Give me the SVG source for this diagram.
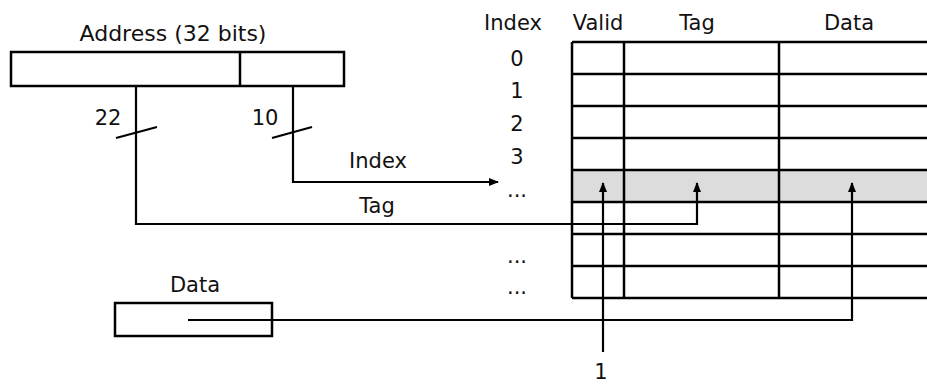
<svg xmlns="http://www.w3.org/2000/svg" width="927" height="385" viewBox="0 0 927 385">
<defs>
<style>
text{font-family:"DejaVu Sans","Liberation Sans",sans-serif;font-size:21px;fill:#111;text-anchor:middle}
.box{fill:#fff;stroke:#000;stroke-width:2.5}
.ln{fill:none;stroke:#000;stroke-width:2.5}
.conn{fill:none;stroke:#000;stroke-width:2.2}
</style>
<marker id="ah" markerUnits="userSpaceOnUse" markerWidth="10" markerHeight="8" refX="9" refY="4" orient="auto">
<path d="M0,0 L10,4 L0,8 z" fill="#000"/>
</marker>
</defs>
<rect width="927" height="385" fill="#fff"/>
<g id="address">
<text x="173" y="41" style="font-size:22px">Address (32 bits)</text>
<rect class="box" x="11" y="52" width="333" height="34"/>
<line class="ln" x1="240" y1="52" x2="240" y2="86"/>
</g>
<g id="cache-table">
<rect x="572" y="170" width="355" height="32" fill="#dcdcdc"/>
<g class="ln">
<line x1="572" y1="42" x2="927" y2="42"/>
<line x1="572" y1="74" x2="927" y2="74"/>
<line x1="572" y1="106" x2="927" y2="106"/>
<line x1="572" y1="138" x2="927" y2="138"/>
<line x1="572" y1="170" x2="927" y2="170"/>
<line x1="572" y1="202" x2="927" y2="202"/>
<line x1="572" y1="234" x2="927" y2="234"/>
<line x1="572" y1="266" x2="927" y2="266"/>
<line x1="572" y1="298" x2="927" y2="298"/>
<line x1="572" y1="42" x2="572" y2="298"/>
<line x1="624" y1="42" x2="624" y2="298"/>
<line x1="779" y1="42" x2="779" y2="298"/>
</g>
<text x="513" y="30">Index</text>
<text x="598" y="30">Valid</text>
<text x="697" y="30">Tag</text>
<text x="849" y="30">Data</text>
<text x="517" y="66">0</text>
<text x="517" y="98">1</text>
<text x="517" y="131">2</text>
<text x="517" y="164">3</text>
<text x="517" y="197">...</text>
<text x="517" y="263">...</text>
<text x="517" y="294">...</text>
</g>
<g id="data-box">
<text x="195" y="292">Data</text>
<rect class="box" x="115" y="303" width="157" height="33"/>
</g>
<g id="connectors">
<polyline class="conn" points="136,86 136,224 697,224 697,183" marker-end="url(#ah)"/>
<polyline class="conn" points="293,86 293,182 498,182" marker-end="url(#ah)"/>
<polyline class="conn" points="603,352 603,183" marker-end="url(#ah)"/>
<polyline class="conn" points="188,320 852,320 852,183" marker-end="url(#ah)"/>
<line class="conn" x1="116" y1="138" x2="157" y2="127"/>
<line class="conn" x1="272" y1="138" x2="312" y2="127"/>
<text x="108" y="125">22</text>
<text x="265" y="125">10</text>
<text x="378" y="168">Index</text>
<text x="377" y="213">Tag</text>
<text x="601" y="379">1</text>
</g>
</svg>
